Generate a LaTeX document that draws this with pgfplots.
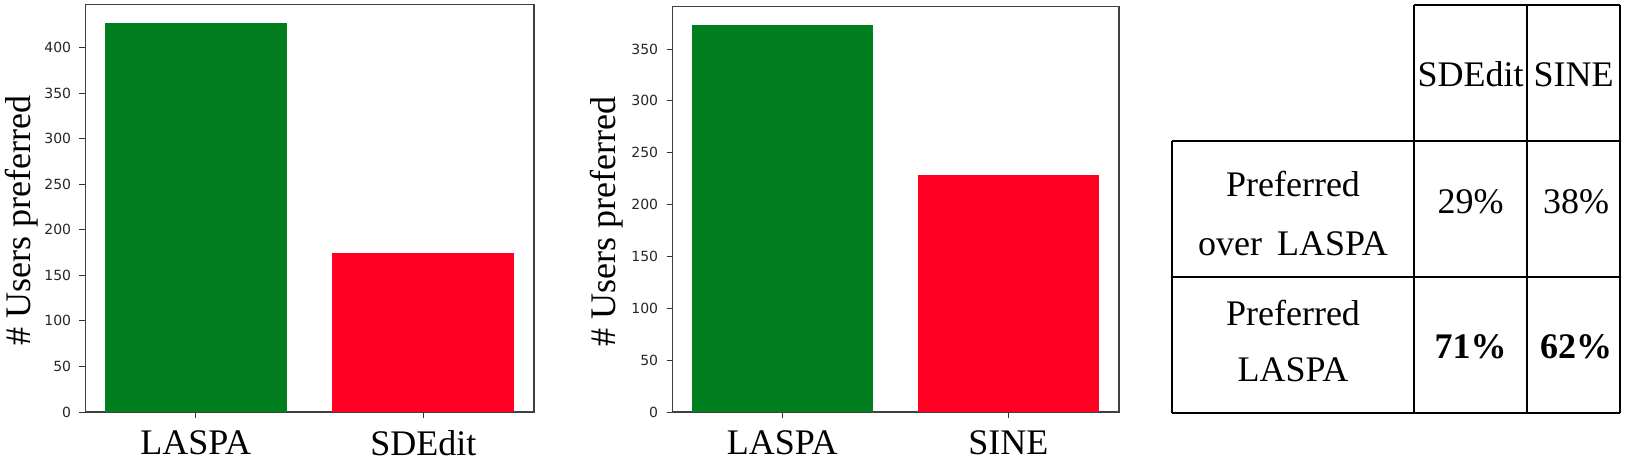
\documentclass[border=0pt]{standalone}
\usepackage{pgfplots}
\pgfplotsset{compat=1.18}
\usepackage{fontspec}
\setmainfont{Liberation Serif}
\newfontfamily\tnr{Liberation Serif}
\newfontfamily\dejavu{DejaVu Sans}
\definecolor{barGreen}{HTML}{017F1E}
\definecolor{barRed}{HTML}{FF0022}

\pgfplotsset{
  prefchart/.style={
    scale only axis, anchor=south west,
    ymin=0,
    xtick={0,1}, tick pos=left, tick align=outside,
    major tick length=3.1pt,
    every tick/.style={black!80, line width=0.5pt},
    axis line style={black!75, line width=0.7pt},
    /pgf/number format/assume math mode=true,
    yticklabel style={font=\dejavu\fontsize{7}{8}\selectfont, text=black!85,
      inner sep=0pt, anchor=east, xshift=-4pt},
    xticklabel style={font=\tnr\fontsize{18}{21}\selectfont, inner sep=0pt,
      anchor=north, yshift=-6.2pt},
    ylabel={\# Users preferred},
  },
  prefbar/.style={ybar, bar width=0.8, bar shift=0pt, draw=none, fill=#1},
}

\begin{document}
\begin{tikzpicture}
\path[use as bounding box] (0,0) rectangle (813pt,-230.5pt);

% left chart: LASPA vs SDEdit
\begin{axis}[prefchart, at={(42.85pt,-206pt)}, width=224.15pt, height=203.65pt,
  xmin=-0.483, xmax=1.486, ymax=447,
  ytick={0,50,...,400}, xticklabels={LASPA,SDEdit},
  ylabel style={font=\tnr\fontsize{18}{21}\selectfont,
    at={(axis description cs:-0.1227,0.471)}, anchor=base}]
\addplot[prefbar=barGreen] coordinates {(0,427)};
\addplot[prefbar=barRed] coordinates {(1,174)};
\end{axis}

% middle chart: LASPA vs SINE
\begin{axis}[prefchart, at={(336.35pt,-206pt)}, width=223.15pt, height=202.65pt,
  xmin=-0.485, xmax=1.49, ymax=390.8,
  ytick={0,50,...,350}, xticklabels={LASPA,SINE},
  ylabel style={font=\tnr\fontsize{18}{21}\selectfont,
    at={(axis description cs:-0.129,0.471)}, anchor=base}]
\addplot[prefbar=barGreen] coordinates {(0,373)};
\addplot[prefbar=barRed] coordinates {(1,229)};
\end{axis}

% table
\begin{scope}[line width=1pt]
\draw (707pt,-2.35pt) -- (810pt,-2.35pt);
\draw (585.85pt,-70.5pt) -- (810pt,-70.5pt);
\draw (585.85pt,-138.35pt) -- (810pt,-138.35pt);
\draw (585.85pt,-206.65pt) -- (810pt,-206.65pt);
\draw (585.85pt,-70.5pt) -- (585.85pt,-206.65pt);
\draw (707pt,-2.35pt) -- (707pt,-206.65pt);
\draw (763.5pt,-2.35pt) -- (763.5pt,-206.65pt);
\draw (810pt,-2.35pt) -- (810pt,-206.65pt);
\end{scope}
\begin{scope}[every node/.style={anchor=base, inner sep=0pt,
    font=\tnr\fontsize{18}{21}\selectfont}]
\node at (735.25pt,-43.35pt) {SDEdit};
\node at (786.75pt,-43.35pt) {SINE};
\node at (646.5pt,-98.35pt) {Preferred};
\node at (646.5pt,-127.5pt) {over\, LASPA};
\node at (735.25pt,-106.5pt) {29\%};
\node at (788pt,-106.5pt) {38\%};
\node at (646.5pt,-162.5pt) {Preferred};
\node at (646.5pt,-190.85pt) {LASPA};
\node at (735.25pt,-179.15pt) {\bfseries 71\%};
\node at (788pt,-179.15pt) {\bfseries 62\%};
\end{scope}
\end{tikzpicture}
\end{document}
